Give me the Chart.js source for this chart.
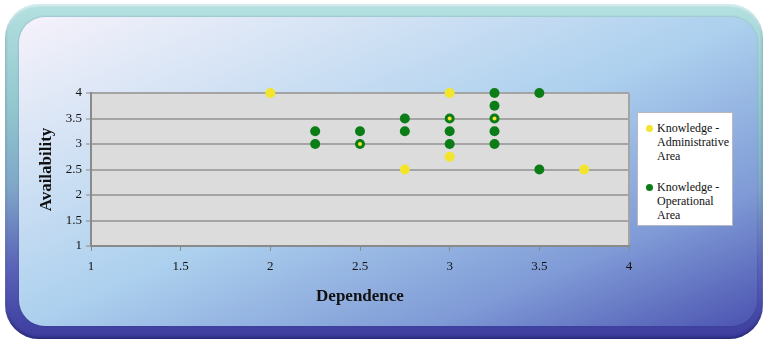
<!DOCTYPE html>
<html>
<head>
<meta charset="utf-8">
<script src="https://cdn.jsdelivr.net/npm/chart.js@4.4.1/dist/chart.umd.min.js"></script>
<style>
  html, body { margin: 0; padding: 0; background: #fff; }
  #wrap { position: relative; width: 768px; height: 343px; overflow: hidden; background: #fff; }
  #frame {
    position: absolute; left: 5px; top: 4px; width: 758px; height: 335px;
    border-radius: 34px;
    background: linear-gradient(to bottom, #b4e0e0 0%, #92c8ce 30%, #7fa6c8 55%, #5a64b8 78%, #3c3c9e 100%);
    box-shadow: inset 0 2px 2px rgba(255,255,255,0.5), inset 0 -2px 3px rgba(20,20,80,0.5);
  }
  #panel {
    position: absolute; left: 19px; top: 17px; width: 738px; height: 309px;
    border-radius: 26px;
    background: linear-gradient(to bottom right, #f6f2fb 0%, #d2e2f4 25%, #acd0ee 50%, #7f9ad6 78%, #4b53b0 100%);
    box-shadow: 0 0 2px rgba(40,60,120,0.4);
  }
  canvas { position: absolute; left: 0; top: 0; }
  #legend {
    position: absolute; left: 637px; top: 112px; width: 94px; height: 112px;
    background: #fff; border: 1px solid #b8b8c0;
    font-family: "Liberation Serif", "DejaVu Serif", serif; font-size: 12px; line-height: 14px; color: #111;
  }
  .item { position: absolute; left: 19px; white-space: pre-line; }
  .dot { position: absolute; left: -11px; top: 4px; width: 7px; height: 7px; border-radius: 50%; }
</style>
</head>
<body>
<div id="wrap">
  <div id="frame"></div>
  <div id="panel"></div>
  <canvas id="chart" width="768" height="343"></canvas>
  <div id="legend"></div>
</div>
<script>
const seriesNames = ['Knowledge -\nAdministrative\nArea', 'Knowledge -\nOperational\nArea'];
const dependenceAdmin = [2, 2.5, 2.75, 3, 3, 3, 3.25, 3.75];
const availabilityAdmin = [4, 3, 2.5, 4, 3.5, 2.75, 3.5, 2.5];
const dependenceOper = [2.25, 2.25, 2.5, 2.5, 2.75, 2.75, 3, 3, 3, 3.25, 3.25, 3.25, 3.25, 3.25, 3.5, 3.5];
const availabilityOper = [3.25, 3, 3.25, 3, 3.5, 3.25, 3.5, 3.25, 3, 4, 3.75, 3.5, 3.25, 3, 4, 2.5];
const xTitle = 'Dependence';
const yTitle = 'Availability';

const yellow = '#f2e52c';
const green = '#0b7d16';

function toPoints(xs, ys) {
    return xs.map((x, i) => ({ x: x, y: ys[i] }));
}

const adminPoints = toPoints(dependenceAdmin, availabilityAdmin);
const operPoints = toPoints(dependenceOper, availabilityOper);

// yellow points that sit on a green one only show as a small centre
function coversGreen(ctx) {
    const p = ctx.raw;
    return p && operPoints.some(q => q.x === p.x && q.y === p.y);
}

const plotArea = {
    id: 'plotArea',
    beforeDraw(chart) {
        const { ctx, chartArea: a } = chart;
        ctx.save();
        ctx.fillStyle = '#dcdcdc';
        ctx.fillRect(a.left, a.top, a.right - a.left, a.bottom - a.top);
        ctx.strokeStyle = '#a4a4a4';
        ctx.lineWidth = 2;
        ctx.beginPath();
        ctx.moveTo(a.right, a.top);
        ctx.lineTo(a.right, a.bottom);
        ctx.stroke();
        ctx.restore();
    }
};

const serif = '"Liberation Serif", "DejaVu Serif", serif';
const plainTick = value => String(value);

const chart = new Chart(document.getElementById('chart'), {
    type: 'scatter',
    data: {
        datasets: [{
            label: seriesNames[0],
            data: adminPoints,
            backgroundColor: yellow,
            borderColor: yellow,
            borderWidth: 0,
            clip: false,
            pointRadius: ctx => coversGreen(ctx) ? 2 : 5
        }, {
            label: seriesNames[1],
            data: operPoints,
            backgroundColor: green,
            borderColor: green,
            borderWidth: 0,
            clip: false,
            pointRadius: 5
        }]
    },
    options: {
        responsive: false,
        animation: false,
        layout: { padding: { left: 0, right: 139, top: 93, bottom: 0 } },
        plugins: {
            legend: { display: false },
            tooltip: { enabled: false }
        },
        scales: {
            x: {
                min: 1, max: 4,
                ticks: { stepSize: 0.5, color: '#111', padding: 8, callback: plainTick,
                         font: { family: serif, size: 13 } },
                grid: { drawOnChartArea: false, color: '#8a8a8a', tickLength: 5, lineWidth: 1 },
                border: { color: '#8a8a8a', width: 2 },
                title: { display: true, text: xTitle, color: '#111', padding: { top: 0, bottom: 36 },
                         font: { family: serif, size: 17, weight: 'bold' } },
                afterFit(scale) { scale.height = 97; }
            },
            y: {
                min: 1, max: 4,
                ticks: { stepSize: 0.5, color: '#111', padding: 4, callback: plainTick,
                         font: { family: serif, size: 13 } },
                grid: { color: '#a4a4a4', lineWidth: 2, tickLength: 5, tickColor: '#8a8a8a', tickWidth: 1 },
                border: { color: '#8a8a8a', width: 2 },
                title: { display: true, text: yTitle, color: '#111', padding: { top: 36, bottom: 0 },
                         font: { family: serif, size: 17, weight: 'bold' } },
                afterFit(scale) { scale.width = 91; }
            }
        }
    },
    plugins: [plotArea]
});

// legend drawn as html from the datasets
const legend = document.getElementById('legend');
const tops = [8, 67];
chart.data.datasets.forEach((ds, i) => {
    const item = document.createElement('div');
    item.className = 'item';
    item.style.top = tops[i] + 'px';
    const dot = document.createElement('span');
    dot.className = 'dot';
    dot.style.background = ds.backgroundColor;
    item.appendChild(dot);
    item.appendChild(document.createTextNode(ds.label));
    legend.appendChild(item);
});
</script>
</body>
</html>
